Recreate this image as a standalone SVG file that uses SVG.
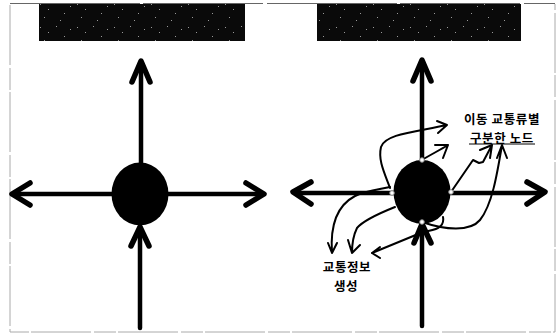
<svg xmlns="http://www.w3.org/2000/svg" width="559" height="334" viewBox="0 0 559 334">
<style>
.main{fill:none;stroke:#000;stroke-width:4.500;stroke-linecap:round;stroke-linejoin:round}
.head{stroke-width:5.500}
.thin{fill:none;stroke:#000;stroke-width:2;stroke-linecap:round;stroke-linejoin:round}
.frame{fill:none;stroke:#aaa;stroke-width:1}
.dot{fill:#fff;stroke:#888;stroke-width:1}
text{font-family:"Noto Sans CJK KR",sans-serif;font-size:12.500px;letter-spacing:0.600px;font-weight:700;fill:#000;text-anchor:middle}
</style>
<defs>
<pattern id="specks" width="37" height="23" patternUnits="userSpaceOnUse">
<rect width="37" height="23" fill="#0a0a0a"/>
<g fill="#999">
<rect x="3" y="4" width="1" height="1"/><rect x="11" y="9" width="1" height="1"/><rect x="19" y="3" width="1" height="1"/>
<rect x="27" y="13" width="1" height="1"/><rect x="33" y="6" width="1" height="1"/><rect x="7" y="17" width="1" height="1"/><rect x="23" y="20" width="1" height="1"/>
</g>
</pattern>
</defs>
<rect width="559" height="334" fill="#fff"/>
<g id="frame">
<path class="frame" d="M10 5V332H555V4" stroke-dasharray="60 3 22 2"/>
<path d="M10 3.500H555" fill="none" stroke="#666" stroke-width="1" stroke-dasharray="130 3 120 4"/>
</g>
<g id="bar-left"><rect x="39" y="4" width="206" height="37" fill="url(#specks)"/></g>
<g id="bar-right"><rect x="317" y="4" width="204" height="37" fill="url(#specks)"/></g>
<g id="connectors">
<path class="main" d="M141 166V64"/><path class="main head" d="M132 82L141 61L150 82"/>
<path class="main" d="M140 328V228"/><path class="main head" d="M131 246L140 227L149 246"/>
<path class="main" d="M112 194H14"/><path class="main head" d="M30 183L12 194L30 205"/>
<path class="main" d="M168 194H262"/><path class="main head" d="M246 183L264 194L246 205"/>
<path class="main" d="M422 165V62"/><path class="main head" d="M413 81L422 60L431 81"/>
<path class="main" d="M422 326V226"/><path class="main head" d="M414 243L422 224L431 243"/>
<path class="main" d="M394 193H296"/><path class="main head" d="M311 182L293 192L311 204"/>
<path class="main" d="M450 193H543"/><path class="main head" d="M527 182L545 192L527 204"/>
<path class="thin" d="M390 188C384 172 378 160 381 147C385 134 415 132 447 125M437 121L447 125L438 133"/>
<path class="thin" d="M422 160C430 155 440 150 448 145M435 145L448 145L443 158"/>
<path class="thin" d="M451 192L473 160L479 163L483 162L492 145M480 150L492 145L490 158"/>
<path class="thin" d="M422 222C445 230 470 232 480 220C492 205 497 175 502 145M497 158L502 145L507 158"/>
<path class="thin" d="M390 187C375 190 365 191 355 196C338 205 330 225 332 253M328 243L332 253L337 243"/>
<path class="thin" d="M395 207C375 215 362 222 357 228C353 236 352 245 352 253M348 240L352 253L360 245"/>
<path class="thin" d="M443 217C445 228 435 230 423 232L372 253M380 247L372 253L380 258"/>
</g>
<g id="node-left"><ellipse cx="140" cy="194" rx="28.500" ry="31.500" fill="#000"/></g>
<g id="node-right">
<ellipse cx="422" cy="192" rx="28.500" ry="32" fill="#000"/>
<circle class="dot" cx="422" cy="160" r="2.300"/>
<circle class="dot" cx="451" cy="192" r="2.300"/>
<circle class="dot" cx="422" cy="222" r="2.300"/>
<circle class="dot" cx="392" cy="193" r="2.300"/>
</g>
<g id="label-moving">
<text x="502" y="124">이동 교통류별</text>
<text x="502" y="142.500">구분한 노드</text>
<path d="M469 144H535" stroke="#000" fill="none"/>
</g>
<g id="label-info">
<text x="347" y="272">교통정보</text>
<text x="346" y="291">생성</text>
</g>
</svg>
